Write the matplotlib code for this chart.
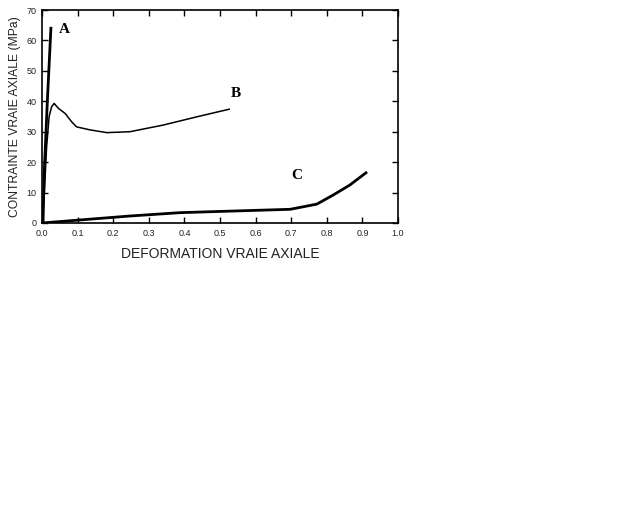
import matplotlib
matplotlib.use('Agg')
import matplotlib.pyplot as plt

# courbe A : montée quasi verticale
strain_a = [0.0, 0.003, 0.006, 0.015, 0.025]
stress_a = [0.0, 0.5, 16.0, 40.0, 64.0]

# courbe B : pic puis plateau
strain_b = [0.0, 0.006, 0.013, 0.020, 0.027, 0.034, 0.046, 0.065, 0.083, 0.097,
            0.135, 0.182, 0.247, 0.341, 0.435, 0.526]
stress_b = [0.0, 8.7, 25.0, 35.0, 38.2, 39.3, 37.7, 36.0, 33.3, 31.6,
            30.6, 29.7, 30.0, 32.2, 34.9, 37.4]

# courbe C : lente puis durcissement
strain_c = [0.0, 0.107, 0.247, 0.388, 0.444, 0.584, 0.697, 0.772, 0.818, 0.865, 0.91]
stress_c = [0.0, 1.0, 2.3, 3.4, 3.6, 4.1, 4.5, 6.2, 9.2, 12.5, 16.5]

labels = ['A', 'B', 'C']
label_pos = [(0.063, 63.5), (0.544, 42.5), (0.715, 15.5)]

plt.rcParams['font.family'] = ['Liberation Sans', 'DejaVu Sans']

fig = plt.figure(figsize=(6.4, 5.12), dpi=100)
ax = fig.add_axes([42 / 640, 1 - 223 / 512, 356 / 640, 213 / 512])

ax.plot(strain_a, stress_a, color='black', lw=2.0)
ax.plot(strain_b, stress_b, color='black', lw=1.1)
ax.plot(strain_c, stress_c, color='black', lw=2.0)

for lab, (x, y) in zip(labels, label_pos):
    ax.text(x, y, lab, fontsize=11, fontweight='bold', family='Liberation Serif',
            ha='center', va='center')

ax.set_xlim(0, 1.0)
ax.set_ylim(0, 70)
ax.set_xticks([0.0, 0.1, 0.2, 0.3, 0.4, 0.5, 0.6, 0.7, 0.8, 0.9, 1.0])
ax.set_yticks(range(0, 71, 10))
ax.tick_params(direction='in', top=True, right=True, labelsize=6.5,
               length=4, width=1, pad=4, labelcolor='#222222')
for s in ax.spines.values():
    s.set_linewidth(1.2)

ax.set_xlabel('DEFORMATION VRAIE AXIALE', fontsize=10, labelpad=7, color='#222222')
ax.set_ylabel('CONTRAINTE VRAIE AXIALE (MPa)', fontsize=8.7, labelpad=4, color='#222222')

fig.savefig('out.png', dpi=100)
